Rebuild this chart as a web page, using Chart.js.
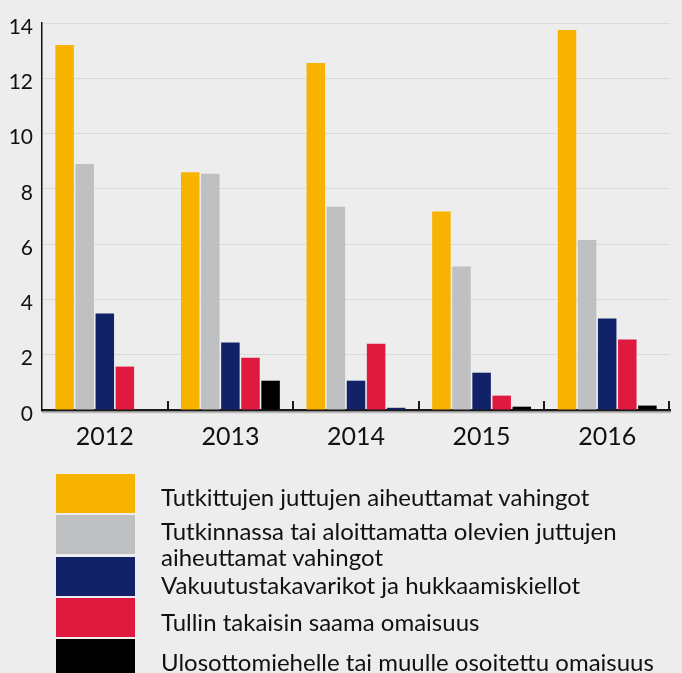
<!DOCTYPE html>
<html>
<head>
<meta charset="utf-8">
<script src="https://cdn.jsdelivr.net/npm/chart.js@4"></script>
<style>
  body{ margin:0; background:#ecedec; font-family:Lato, "Open Sans", sans-serif; }
  #wrap{ position:relative; width:682px; height:673px; overflow:hidden; }
  #chart-box{ position:absolute; left:0; top:0; width:682px; height:450px; }
  #legend{ position:absolute; left:0; top:0; width:682px; height:673px; }
  .lg-box{ position:absolute; left:56px; width:79px; height:39px; }
  .lg-text{ position:absolute; left:161px; font-size:24px; line-height:26px; color:#111; white-space:nowrap; }
</style>
</head>
<body>
<div id="wrap">
  <div id="chart-box"><canvas id="bars"></canvas></div>
  <div id="legend"></div>
</div>
<script>
// vuodet
const years = ['2012','2013','2014','2015','2016'];

// sarjojen nimet (legendassa)
const seriesNames = [
  'Tutkittujen juttujen aiheuttamat vahingot',
  'Tutkinnassa tai aloittamatta olevien juttujen\naiheuttamat vahingot',
  'Vakuutustakavarikot ja hukkaamiskiellot',
  'Tullin takaisin saama omaisuus',
  'Ulosottomiehelle tai muulle osoitettu omaisuus'
];

// arvot kuvasta luettuna
const tutkitut      = [13.2, 8.6, 12.55, 7.18, 13.75];
const tutkinnassa   = [8.9, 8.55, 7.35, 5.19, 6.15];
const vakuutus      = [3.49, 2.44, 1.06, 1.35, 3.31];
const tulli         = [1.57, 1.89, 2.40, 0.52, 2.55];
const ulosotto      = [0, 1.06, 0.08, 0.12, 0.16];

const yTicks = [0,2,4,6,8,10,12,14];

const colors = ['#f8b200','#bfc0c2','#122269','#e0193f','#000000'];
// 2014 pieni palkki on kuvassa sininen
const ulosottoColors = ['#000000','#000000','#122269','#000000','#000000'];

// pienet pystytikit luokkien väliin
const catTicks = {
  id:'catTicks',
  afterDatasetsDraw(chart){
    const {ctx, chartArea} = chart;
    const n = years.length;
    const w = (chartArea.right-chartArea.left)/n;
    ctx.save();
    // varjo pohjaviivan alla
    ctx.strokeStyle='#b9bab9';
    ctx.lineWidth=1.5;
    ctx.beginPath();
    ctx.moveTo(chartArea.left, chartArea.bottom+2.5);
    ctx.lineTo(chartArea.right+1, chartArea.bottom+2.5);
    ctx.stroke();
    ctx.strokeStyle='#1a1a1a';
    ctx.lineWidth=2;
    for(let k=1;k<=n;k++){
      const x = Math.round(chartArea.left + k*w) - (k===n?1:0);
      ctx.beginPath();
      ctx.moveTo(x, chartArea.bottom-9);
      ctx.lineTo(x, chartArea.bottom);
      ctx.stroke();
    }
    ctx.restore();
  }
};

const ctx = document.getElementById('bars').getContext('2d');
const dataArrays = [tutkitut, tutkinnassa, vakuutus, tulli, ulosotto];

new Chart(ctx, {
  type:'bar',
  data:{
    labels: years,
    datasets: dataArrays.map((arr,i)=>({
      label: seriesNames[i],
      data: arr,
      backgroundColor: i===4 ? ulosottoColors : colors[i],
      categoryPercentage:0.8,
      barPercentage:0.92
    }))
  },
  options:{
    responsive:true,
    maintainAspectRatio:false,
    animation:false,
    layout:{ padding:{ top:23, right:12, left:0, bottom:0 } },
    plugins:{ legend:{ display:false }, tooltip:{ enabled:false } },
    scales:{
      x:{
        grid:{ display:false, drawTicks:false },
        border:{ display:true, color:'#1a1a1a', width:2.5 },
        ticks:{ color:'#111', font:{ family:'Lato', size:25 }, padding:12 },
        afterFit(s){ s.height=40; }
      },
      y:{
        min:0, max:14,
        afterBuildTicks(s){ s.ticks = yTicks.map(v=>({value:v})); },
        grid:{ color:'#dadbd6', lineWidth:1, drawTicks:false },
        border:{ display:true, color:'#111', width:1.5 },
        ticks:{ color:'#111', font:{ family:'Lato', size:21 }, padding:9, labelOffset:4 },
        afterFit(s){ s.width=42; }
      }
    }
  },
  plugins:[catTicks]
});

// legenda HTML:nä
const legend = document.getElementById('legend');
const boxTops  = [474, 515, 557, 598, 639];
const textMids = [497, 531, 585, 622, 662];
seriesNames.forEach((name,i)=>{
  const b = document.createElement('div');
  b.className='lg-box';
  b.style.top = boxTops[i]+'px';
  b.style.background = colors[i];
  legend.appendChild(b);
  const t = document.createElement('div');
  t.className='lg-text';
  t.style.top = (textMids[i]-13)+'px';
  t.innerHTML = name.split('\n').join('<br>');
  legend.appendChild(t);
});
</script>
</body>
</html>
